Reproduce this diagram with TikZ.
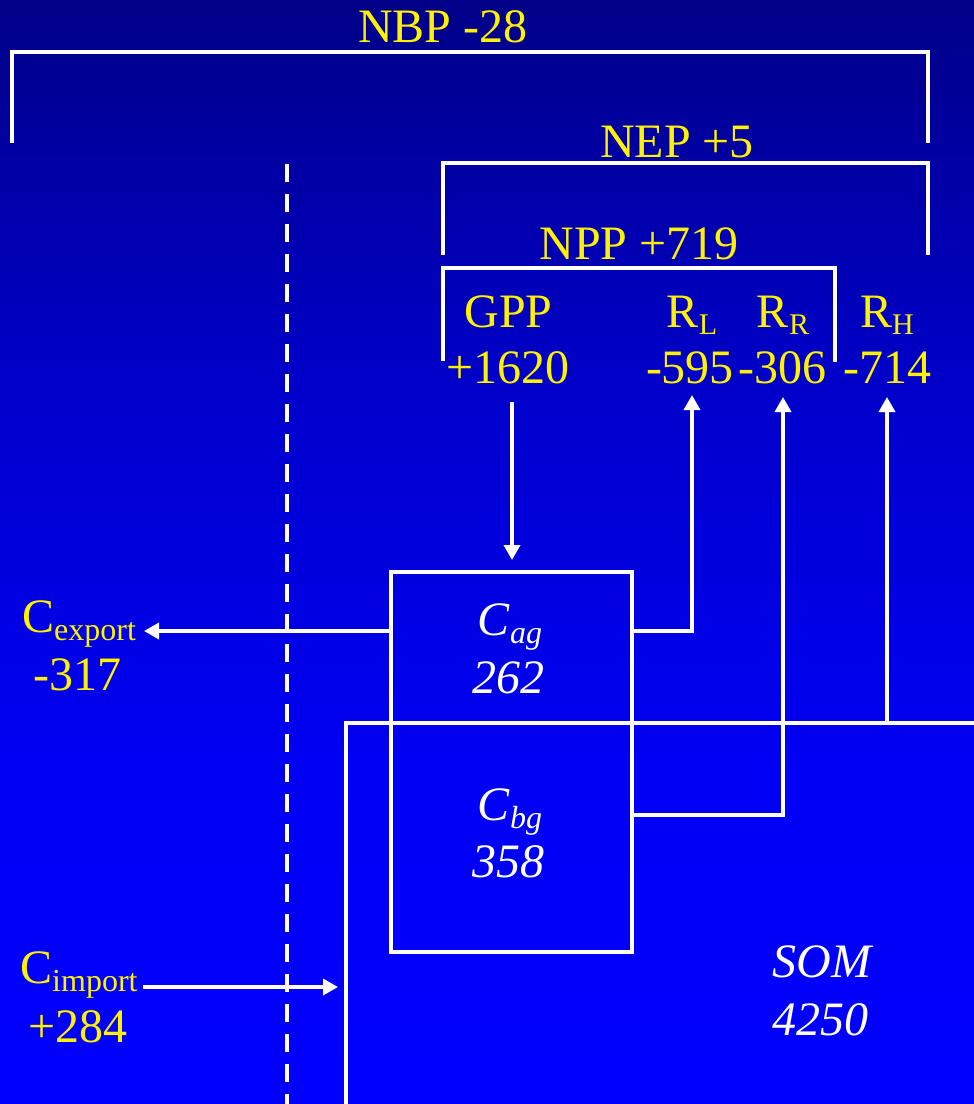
\documentclass[tikz,border=0pt]{standalone}
\usepackage{fontspec}
\setmainfont{Liberation Serif}
\usetikzlibrary{arrows.meta}
\pgfdeclareverticalshading{bgshade}{100bp}{rgb(0bp)=(0,0,1); rgb(25bp)=(0,0,1); rgb(39.7bp)=(0,0,0.96); rgb(56.9bp)=(0,0,0.8); rgb(75bp)=(0,0,0.533); rgb(100bp)=(0,0,0.533)}
\newcommand\mysubR[1]{\raisebox{-7pt}{\fontsize{30}{30}\selectfont #1}}
\newcommand\mysubC[1]{\raisebox{-8pt}{\fontsize{32}{32}\selectfont #1}}
\begin{document}
\begin{tikzpicture}[x=1pt,y=-1pt,
  lbl/.style={text=yellow, font=\fontsize{48}{48}\selectfont, anchor=base, inner sep=0pt},
  itl/.style={text=white, font=\fontsize{48}{48}\selectfont\itshape, anchor=base, inner sep=0pt},
  ln/.style={draw=white, line width=3.5pt},
  arr/.style={ln, -{Triangle[length=15pt,width=16pt]}},
  dashln/.style={draw=white, line width=3.5pt, dash pattern=on 18pt off 12pt}]
\shade[shading=bgshade] (0,0) rectangle (974,1104);
\useasboundingbox (0,0) rectangle (974,1104);
% labels
\node[lbl] (nbp) at (443,42) {NBP -28};
\node[lbl] (nep) at (677,157) {NEP +5};
\node[lbl] (npp) at (639,259) {NPP +719};
\node[lbl] (gpp) at (508.5,327) {GPP};
\node[lbl] (gppv) at (508,383) {+1620};
\node[lbl] (rl) at (692,327) {R\mysubR{L}};
\node[lbl] (rlv) at (690,383) {-595};
\node[lbl] (rr) at (783,327) {R\mysubR{R}};
\node[lbl] (rrv) at (782.5,383) {-306};
\node[lbl] (rh) at (887,327) {R\mysubR{H}};
\node[lbl] (rhv) at (887.5,383) {-714};
\node[lbl, anchor=base west] (cex) at (22,632) {C\mysubC{export}};
\node[lbl] (cexv) at (77.5,690) {-317};
\node[lbl, anchor=base west] (cim) at (20,983) {C\mysubC{import}};
\node[lbl] (cimv) at (78,1042) {+284};
\node[itl] (cag) at (510,635) {C\mysubC{ag}};
\node[itl] (cagv) at (508,693) {262};
\node[itl] (cbg) at (510,820) {C\mysubC{bg}};
\node[itl] (cbgv) at (508,877) {358};
\node[itl] (som) at (822,977) {SOM};
\node[itl] (somv) at (820.5,1035) {4250};
% brackets
\draw[ln] (12,143) -- (12,52) -- (928,52) -- (928,143);
\draw[ln] (443,255) -- (443,163) -- (928,163) -- (928,255);
\draw[ln] (443,361) -- (443,268) -- (835,268) -- (835,362);
% boundary
\draw[dashln] (287,164) -- (287,1110);
% pools
\node[ln, minimum width=241pt, minimum height=380pt, inner sep=0pt, outer sep=0pt] (cbox) at (511.5,762) {};
\draw[ln] (346,1110) -- (346,723) -- (980,723);
% connector end points
\coordinate (g1) at (512,402);
\coordinate (g2) at (512,560);
\coordinate (l1) at (cbox.east |- 0,631);
\coordinate (l2) at (692,631);
\coordinate (l3) at (692,395);
\coordinate (r1) at (cbox.east |- 0,815);
\coordinate (r2) at (783,815);
\coordinate (r3) at (783,397);
\coordinate (h1) at (887,723);
\coordinate (h2) at (887,397);
\coordinate (e1) at (cbox.west |- 0,631);
\coordinate (e2) at (144,631);
\coordinate (i1) at (143,987);
\coordinate (i2) at (338,987);
% flows
\draw[arr] (g1) -- (g2);
\draw[arr] (l1) -- (l2) -- (l3);
\draw[arr] (r1) -- (r2) -- (r3);
\draw[arr] (h1) -- (h2);
\draw[arr] (e1) -- (e2);
\draw[arr] (i1) -- (i2);
\end{tikzpicture}
\end{document}
